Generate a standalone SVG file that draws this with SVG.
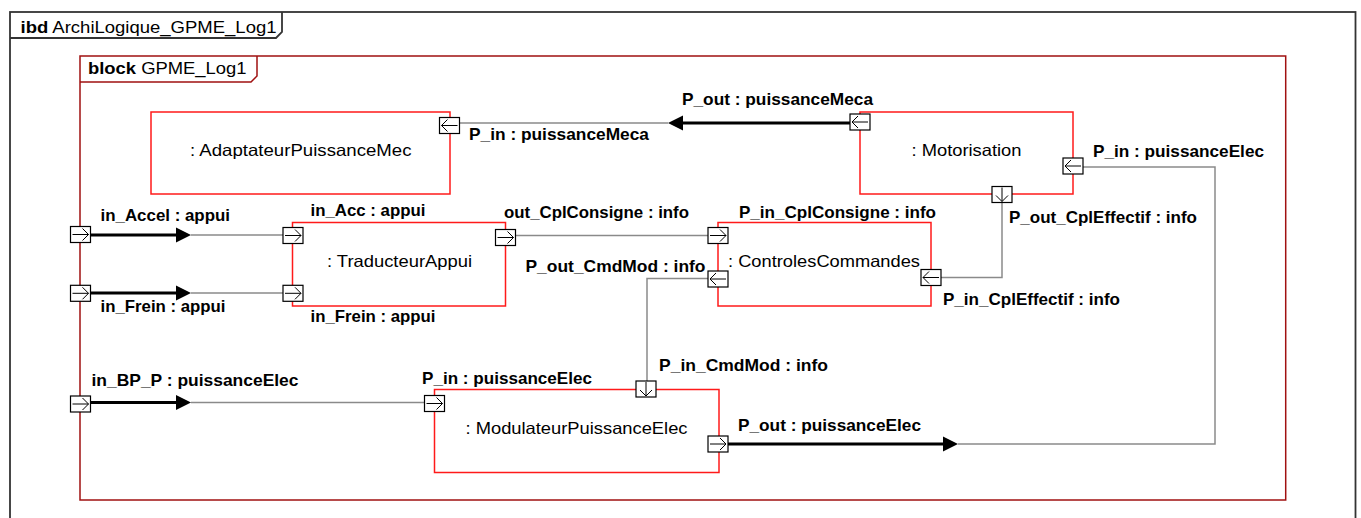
<svg xmlns="http://www.w3.org/2000/svg" xmlns:xlink="http://www.w3.org/1999/xlink" width="1361" height="518" viewBox="0 0 1361 518">
<style>
text{font-family:"Liberation Sans",Arial,sans-serif;font-size:16.5px;fill:#000}
.b{font-weight:bold}
.part{fill:#fff;stroke:#ff1a1a;stroke-width:1.5}
.frame{fill:none;stroke:#333;stroke-width:1.8}
.blk{fill:none;stroke:#a01010;stroke-width:1.5}
.thin{fill:none;stroke:#8a8a8a;stroke-width:1.5}
.thick{fill:none;stroke:#000;stroke-width:3}
.head{fill:#000}
.pbox{fill:#fff;stroke:#000;stroke-width:1.2}
.parr{fill:none;stroke:#000;stroke-width:1}
</style>
<defs>
<g id="pR"><rect class="pbox" x="-10" y="-8" width="20" height="16"/><path class="parr" d="M-8,0H8M2,-6L8,0L2,6"/></g>
<g id="pL"><rect class="pbox" x="-10" y="-8" width="20" height="16"/><path class="parr" d="M8,0H-8M-2,-6L-8,0L-2,6"/></g>
<g id="pD"><rect class="pbox" x="-10" y="-8" width="20" height="16"/><path class="parr" d="M0,-7V7M-6,1L0,7L6,1"/></g>
</defs>
<rect x="0" y="0" width="1361" height="518" fill="#fff"/>
<g id="diagram-frame">
<rect class="frame" x="10" y="12" width="1345.5" height="530"/>
<path class="frame" d="M10,38H276L282,32V12"/>
<text x="20.5" y="33" textLength="256" lengthAdjust="spacingAndGlyphs"><tspan class="b">ibd</tspan> ArchiLogique_GPME_Log1</text>
</g>
<g id="block-GPME_Log1">
<rect class="blk" x="80" y="56" width="1205.7" height="444"/>
<path class="blk" d="M80,82H251L257,76V56"/>
<text x="88" y="74" textLength="158.5" lengthAdjust="spacingAndGlyphs"><tspan class="b">block</tspan> GPME_Log1</text>
</g>
<g id="node-adaptateur">
<rect class="part" x="151" y="112" width="299" height="82"/>
<text x="190" y="156" textLength="221.5" lengthAdjust="spacingAndGlyphs">: AdaptateurPuissanceMec</text>
</g>
<g id="node-motorisation">
<rect class="part" x="860" y="112" width="213" height="82"/>
<text x="911.5" y="156" textLength="110" lengthAdjust="spacingAndGlyphs">: Motorisation</text>
</g>
<g id="node-traducteur">
<rect class="part" x="292.5" y="222.5" width="213" height="83.5"/>
<text x="327" y="266.5" textLength="145" lengthAdjust="spacingAndGlyphs">: TraducteurAppui</text>
</g>
<g id="node-controles">
<rect class="part" x="718" y="222.5" width="213" height="83.5"/>
<text x="728" y="266.5" textLength="192" lengthAdjust="spacingAndGlyphs">: ControlesCommandes</text>
</g>
<g id="node-modulateur">
<rect class="part" x="434.5" y="389.5" width="284.5" height="83"/>
<text x="465.5" y="434" textLength="222" lengthAdjust="spacingAndGlyphs">: ModulateurPuissanceElec</text>
</g>
<g id="connectors">
<path class="thick" d="M850,123H683"/>
<polygon class="head" points="668,123 683,115.5 683,130.5"/>
<path class="thin" d="M668,123H459.5"/>
<path class="thick" d="M728,444H943"/>
<polygon class="head" points="958,444 943,436.5 943,451.5"/>
<path class="thin" d="M958,444H1215V167H1083"/>
<path class="thin" d="M1002,202.5V277.5H941"/>
<path class="thin" d="M515.5,235.5H708"/>
<path class="thin" d="M708,278.5H647V381"/>
<path class="thick" d="M90.5,235H176"/>
<polygon class="head" points="191,235 176,227.5 176,242.5"/>
<path class="thin" d="M191,235H283"/>
<path class="thick" d="M90.5,293H176"/>
<polygon class="head" points="191,293 176,285.5 176,300.5"/>
<path class="thin" d="M191,293H283"/>
<path class="thick" d="M90.5,402.5H176"/>
<polygon class="head" points="191,402.5 176,395 176,410"/>
<path class="thin" d="M191,402.5H424.5"/>
</g>
<g id="ports">
<use xlink:href="#pL" transform="translate(449.5,125.5)"/>
<use xlink:href="#pL" transform="translate(860,122)"/>
<use xlink:href="#pL" transform="translate(1073,166)"/>
<use xlink:href="#pD" transform="translate(1002,194.5)"/>
<use xlink:href="#pR" transform="translate(718,235.5)"/>
<use xlink:href="#pL" transform="translate(718,279)"/>
<use xlink:href="#pL" transform="translate(931,277.5)"/>
<use xlink:href="#pR" transform="translate(293,235.5)"/>
<use xlink:href="#pR" transform="translate(293,293.3)"/>
<use xlink:href="#pR" transform="translate(505.5,237.5)"/>
<use xlink:href="#pR" transform="translate(80.5,234.5)"/>
<use xlink:href="#pR" transform="translate(80.5,293.3)"/>
<use xlink:href="#pR" transform="translate(80.5,404)"/>
<use xlink:href="#pR" transform="translate(434.5,403.5)"/>
<use xlink:href="#pD" transform="translate(646,389)"/>
<use xlink:href="#pR" transform="translate(718,444)"/>
</g>
<g id="port-labels" class="b">
<text class="b" x="682" y="105" textLength="191" lengthAdjust="spacingAndGlyphs">P_out : puissanceMeca</text>
<text class="b" x="469" y="140" textLength="180" lengthAdjust="spacingAndGlyphs">P_in : puissanceMeca</text>
<text class="b" x="1093" y="157" textLength="171" lengthAdjust="spacingAndGlyphs">P_in : puissanceElec</text>
<text class="b" x="1009" y="223" textLength="188" lengthAdjust="spacingAndGlyphs">P_out_CplEffectif : info</text>
<text class="b" x="739" y="217.5" textLength="197" lengthAdjust="spacingAndGlyphs">P_in_CplConsigne : info</text>
<text class="b" x="504" y="218" textLength="185" lengthAdjust="spacingAndGlyphs">out_CplConsigne : info</text>
<text class="b" x="525.5" y="272" textLength="180" lengthAdjust="spacingAndGlyphs">P_out_CmdMod : info</text>
<text class="b" x="943" y="305" textLength="177" lengthAdjust="spacingAndGlyphs">P_in_CplEffectif : info</text>
<text class="b" x="100.5" y="220.5" textLength="129.5" lengthAdjust="spacingAndGlyphs">in_Accel : appui</text>
<text class="b" x="310.5" y="216" textLength="115" lengthAdjust="spacingAndGlyphs">in_Acc : appui</text>
<text class="b" x="100.5" y="312" textLength="125" lengthAdjust="spacingAndGlyphs">in_Frein : appui</text>
<text class="b" x="310.5" y="321.5" textLength="125" lengthAdjust="spacingAndGlyphs">in_Frein : appui</text>
<text class="b" x="91.5" y="385.5" textLength="207" lengthAdjust="spacingAndGlyphs">in_BP_P : puissanceElec</text>
<text class="b" x="422" y="383.5" textLength="170" lengthAdjust="spacingAndGlyphs">P_in : puissanceElec</text>
<text class="b" x="659" y="371" textLength="169" lengthAdjust="spacingAndGlyphs">P_in_CmdMod : info</text>
<text class="b" x="738" y="431" textLength="183" lengthAdjust="spacingAndGlyphs">P_out : puissanceElec</text>
</g>
</svg>
